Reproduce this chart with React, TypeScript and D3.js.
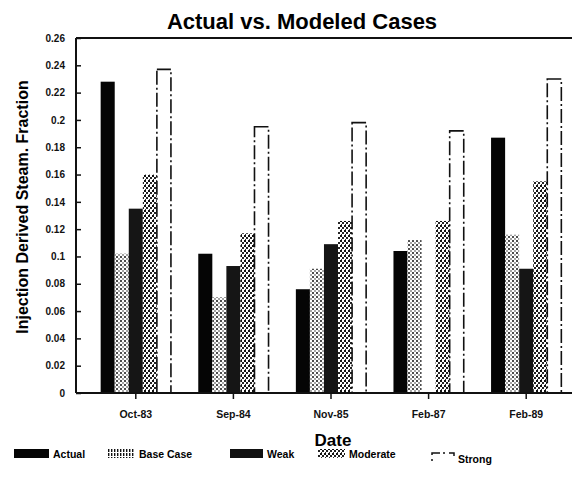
import React, { useRef, useEffect } from 'react'
import * as d3 from 'd3'

const dates = ['Oct-83', 'Sep-84', 'Nov-85', 'Feb-87', 'Feb-89']
const seriesNames = ['Actual', 'Base Case', 'Weak', 'Moderate', 'Strong']
const actual = [0.228, 0.102, 0.076, 0.104, 0.187]
const baseCase = [0.102, 0.070, 0.091, 0.112, 0.116]
const weak = [0.135, 0.093, 0.109, null, 0.091]
const moderate = [0.160, 0.117, 0.126, 0.126, 0.155]
const strong = [0.237, 0.195, 0.198, 0.192, 0.230]
const yTicks = [0, 0.02, 0.04, 0.06, 0.08, 0.1, 0.12, 0.14, 0.16, 0.18, 0.2, 0.22, 0.24, 0.26]

const seriesValues = [actual, baseCase, weak, moderate, strong]
const fills = ['#050505', 'url(#dots)', '#151515', 'url(#mod)', '#ffffff']

const App = () => {
  const svgRef = useRef<SVGSVGElement>(null)

  useEffect(() => {
    const width = 572
    const left = 76
    const top = 38
    const bottom = 393
    const svg = d3.select(svgRef.current)
    svg.selectAll('*').remove()

    const font = '"Liberation Sans", Arial, sans-serif'

    const defs = svg.append('defs')
    const dots = defs.append('pattern').attr('id', 'dots').attr('patternUnits', 'userSpaceOnUse')
      .attr('width', 4).attr('height', 4)
    dots.append('rect').attr('width', 4).attr('height', 4).attr('fill', '#fff')
    dots.append('circle').attr('cx', 1).attr('cy', 1).attr('r', 1).attr('fill', '#111')
    dots.append('circle').attr('cx', 3).attr('cy', 3).attr('r', 0.8).attr('fill', '#333')

    const mod = defs.append('pattern').attr('id', 'mod').attr('patternUnits', 'userSpaceOnUse')
      .attr('width', 4).attr('height', 5)
    mod.append('rect').attr('width', 4).attr('height', 5).attr('fill', '#fff')
    mod.append('rect').attr('x', 0).attr('y', 0).attr('width', 2).attr('height', 2).attr('fill', '#111')
    mod.append('rect').attr('x', 2).attr('y', 2).attr('width', 2).attr('height', 2).attr('fill', '#222')
    mod.append('rect').attr('x', 1).attr('y', 4).attr('width', 1).attr('height', 1).attr('fill', '#333')

    const vlines = defs.append('pattern').attr('id', 'vlines').attr('patternUnits', 'userSpaceOnUse')
      .attr('width', 3).attr('height', 4)
    vlines.append('rect').attr('width', 3).attr('height', 4).attr('fill', '#fff')
    vlines.append('rect').attr('width', 1.4).attr('height', 3).attr('fill', '#111')

    const y = d3.scaleLinear().domain([0, 0.26]).range([bottom, top])
    const x0 = d3.scaleBand().domain(dates).range([87, 575]).paddingInner(0.28).paddingOuter(0.14)
    const x1 = d3.scaleBand().domain(seriesNames).range([0, x0.bandwidth()])

    // title
    svg.append('text').attr('x', 302).attr('y', 29).attr('text-anchor', 'middle')
      .style('font-family', font).style('font-weight', 'bold').style('font-size', '22px')
      .text('Actual vs. Modeled Cases')

    // bars
    seriesNames.forEach((name, si) => {
      const vals = seriesValues[si]
      const g = svg.append('g')
      g.selectAll('rect')
        .data(dates.map((d, i) => ({ d, v: vals[i] })).filter(e => e.v != null))
        .join('rect')
        .attr('x', e => (x0(e.d) || 0) + (x1(name) || 0))
        .attr('y', e => y(e.v as number))
        .attr('width', x1.bandwidth())
        .attr('height', e => bottom - y(e.v as number))
        .attr('fill', fills[si])
        .attr('stroke', name === 'Strong' ? '#111' : 'none')
        .attr('stroke-width', name === 'Strong' ? 1.6 : 0)
        .attr('stroke-dasharray', name === 'Strong' ? '14,3,2,3' : null)
    })

    // frame
    svg.append('line').attr('x1', left).attr('x2', width).attr('y1', top).attr('y2', top)
      .attr('stroke', '#111').attr('stroke-width', 2)
    svg.append('line').attr('x1', left).attr('x2', left).attr('y1', top).attr('y2', bottom)
      .attr('stroke', '#111').attr('stroke-width', 2)
    svg.append('line').attr('x1', left).attr('x2', width).attr('y1', bottom).attr('y2', bottom)
      .attr('stroke', '#111').attr('stroke-width', 2)

    // y axis ticks
    const yAxis = d3.axisLeft(y).tickValues(yTicks).tickSize(-5).tickPadding(11)
      .tickFormat(v => (v === 0 ? '0' : d3.format('')(+(+v).toFixed(2))))
    const ya = svg.append('g').attr('transform', `translate(${left},0)`).call(yAxis)
    ya.select('.domain').remove()
    ya.selectAll('line').attr('stroke', '#111').attr('stroke-width', 1.5)
    ya.selectAll('text').style('font-family', font).style('font-weight', 'bold').style('font-size', '10px')
      .attr('fill', '#111')

    // x axis
    const xAxis = d3.axisBottom(x0).tickSize(6).tickPadding(12)
    const xa = svg.append('g').attr('transform', `translate(0,${bottom})`).call(xAxis)
    xa.select('.domain').remove()
    xa.selectAll('line').attr('stroke', '#111').attr('stroke-width', 1.5)
    xa.selectAll('text').style('font-family', font).style('font-weight', 'bold').style('font-size', '10.5px')
      .attr('fill', '#111')

    // axis titles
    svg.append('text').attr('transform', 'rotate(-90)').attr('x', -207).attr('y', 28)
      .attr('text-anchor', 'middle').style('font-family', font).style('font-weight', 'bold')
      .style('font-size', '16px').text('Injection Derived Steam. Fraction')
    svg.append('text').attr('x', 333).attr('y', 446).attr('text-anchor', 'middle')
      .style('font-family', font).style('font-weight', 'bold').style('font-size', '17px').text('Date')

    // legend
    const legendX = [14, 108, 230, 318, 432]
    const legendW = [35, 27, 33, 27, 22]
    const legendFill = ['#050505', 'url(#vlines)', '#111', 'url(#mod)', 'none']
    const lg = svg.append('g').attr('transform', 'translate(0,453)')
    seriesNames.forEach((name, i) => {
      const sw = legendW[i]
      if (name === 'Strong') {
        lg.append('path').attr('d', `M${legendX[i]},8 L${legendX[i]},0 L${legendX[i] + sw},0 L${legendX[i] + sw},3`)
          .attr('fill', 'none').attr('stroke', '#111').attr('stroke-width', 1.5).attr('stroke-dasharray', '2,4,10,3')
      } else {
        lg.append('rect').attr('x', legendX[i]).attr('y', -4).attr('width', sw).attr('height', 9)
          .attr('fill', legendFill[i])
      }
      lg.append('text').attr('x', legendX[i] + sw + 4).attr('y', name === 'Strong' ? 10 : 5)
        .style('font-family', font).style('font-weight', 'bold').style('font-size', '10.5px')
        .text(name)
    })
  }, [])

  return (
    <svg ref={svgRef} width={572} height={484} style={{ position: 'absolute', left: 0, top: 0, background: '#fff' }} />
  )
}

export default App
